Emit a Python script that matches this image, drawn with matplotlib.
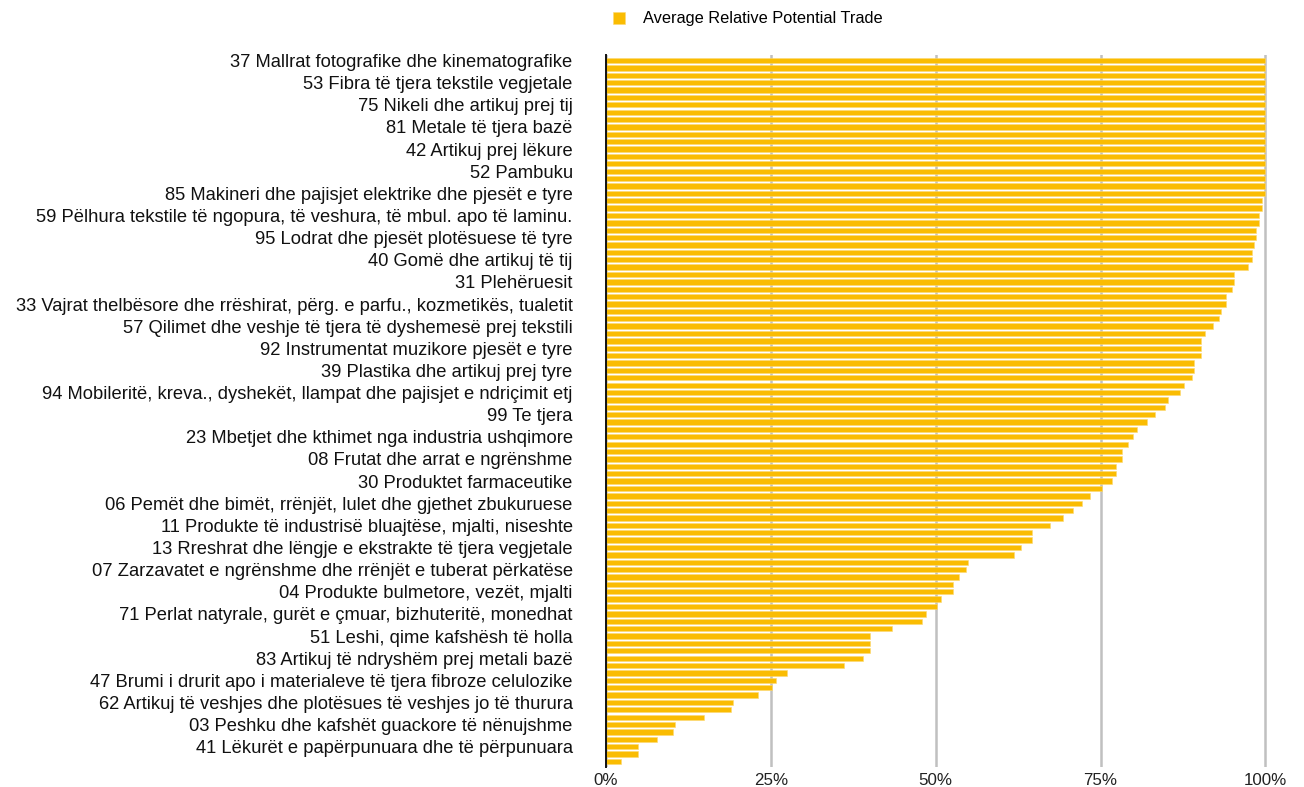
import numpy as np
import matplotlib.pyplot as plt
from matplotlib.ticker import FuncFormatter

plt.rcParams['font.family'] = ['Liberation Sans', 'DejaVu Sans']

# Etiketat e produkteve (çdo e treta shirit ka etiketë)
etiketat = [
    "37 Mallrat fotografike dhe kinematografike",
    "53 Fibra të tjera tekstile vegjetale",
    "75 Nikeli dhe artikuj prej tij",
    "81 Metale të tjera bazë",
    "42 Artikuj prej lëkure",
    "52 Pambuku",
    "85 Makineri dhe pajisjet elektrike dhe pjesët e tyre",
    "59 Pëlhura tekstile të ngopura, të veshura, të mbul. apo të laminu.",
    "95 Lodrat dhe pjesët plotësuese të tyre",
    "40 Gomë dhe artikuj të tij",
    "31 Plehëruesit",
    "33 Vajrat thelbësore dhe rrëshirat, përg. e parfu., kozmetikës, tualetit",
    "57 Qilimet dhe veshje të tjera të dyshemesë prej tekstili",
    "92 Instrumentat muzikore pjesët e tyre",
    "39 Plastika dhe artikuj prej tyre",
    "94 Mobileritë, kreva., dyshekët, llampat dhe pajisjet e ndriçimit etj",
    "99 Te tjera",
    "23 Mbetjet dhe kthimet nga industria ushqimore",
    "08 Frutat dhe arrat e ngrënshme",
    "30 Produktet farmaceutike",
    "06 Pemët dhe bimët, rrënjët, lulet dhe gjethet zbukuruese",
    "11 Produkte të industrisë bluajtëse, mjalti, niseshte",
    "13 Rreshrat dhe lëngje e ekstrakte të tjera vegjetale",
    "07 Zarzavatet e ngrënshme dhe rrënjët e tuberat përkatëse",
    "04 Produkte bulmetore, vezët, mjalti",
    "71 Perlat natyrale, gurët e çmuar, bizhuteritë, monedhat",
    "51 Leshi, qime kafshësh të holla",
    "83 Artikuj të ndryshëm prej metali bazë",
    "47 Brumi i drurit apo i materialeve të tjera fibroze celulozike",
    "62 Artikuj të veshjes dhe plotësues të veshjes jo të thurura",
    "03 Peshku dhe kafshët guackore të nënujshme",
    "41 Lëkurët e papërpunuara dhe të përpunuara",
]

# Vlerat (%) per çdo shirit, nga lart poshtë
vlerat = [
    100, 100, 100, 100, 100, 100, 100, 100, 100, 100, 100, 100, 100, 100, 100, 100, 100,
    100, 100, 99.5, 99.5, 99.0, 99.0, 98.6, 98.6, 98.3, 98.0, 98.0, 97.3, 95.3, 95.3, 95.0, 94.0,
    94.0, 93.3, 93.0, 92.1, 90.9, 90.2, 90.2, 90.2, 89.2, 89.2, 88.9, 87.7, 87.0, 85.2, 84.8, 83.3, 82.0,
    80.6, 79.9, 79.2, 78.3, 78.3, 77.4, 77.4, 76.8, 75.2, 73.4, 72.2, 70.8, 69.3, 67.3, 64.6, 64.6,
    63.0, 61.9, 54.9, 54.6, 53.6, 52.6, 52.6, 50.8, 50.2, 48.6, 47.9, 43.3, 40.1, 40.1, 40.1, 39.0,
    36.1, 27.4, 25.8, 25.1, 23.0, 19.2, 18.9, 14.8, 10.4, 10.2, 7.7, 4.9, 4.9, 2.3,
]

ngjyra = '#FABC02'

fig = plt.figure(figsize=(13.04, 7.87), dpi=100)
ax = fig.add_axes([606 / 1304, 1 - 767 / 787, 666 / 1304, 712 / 787])

y = np.arange(len(vlerat))
ax.barh(y, vlerat, height=0.72, color=ngjyra, edgecolor='#FCD872', linewidth=0.4,
        label='Average Relative Potential Trade', zorder=2)

ax.set_xlim(0, 101)
ax.set_ylim(len(vlerat) - 0.25, -0.75)

ax.set_xticks([0, 25, 50, 75, 100])
ax.xaxis.set_major_formatter(FuncFormatter(lambda v, p: f"{int(v)}%"))
ax.set_yticks(y[::3])
ax.set_yticklabels(etiketat, fontsize=13.2, color='#111111')
ax.tick_params(axis='both', length=0)
ax.tick_params(axis='y', pad=24)
ax.tick_params(axis='x', pad=4, labelsize=12.2, labelcolor='#222222')

ax.grid(axis='x', color='#c0c0c0', linewidth=1.8, zorder=1)
ax.set_axisbelow(True)
for s in ['top', 'right', 'bottom']:
    ax.spines[s].set_visible(False)
ax.spines['left'].set_color('#111111')
ax.spines['left'].set_linewidth(1.4)

fig.legend(loc='center', bbox_to_anchor=(748 / 1304, 1 - 19 / 787), frameon=False,
           fontsize=11.8, handlelength=0.75, handleheight=0.75, handletextpad=1.1)

fig.savefig('out.png', dpi=100)
